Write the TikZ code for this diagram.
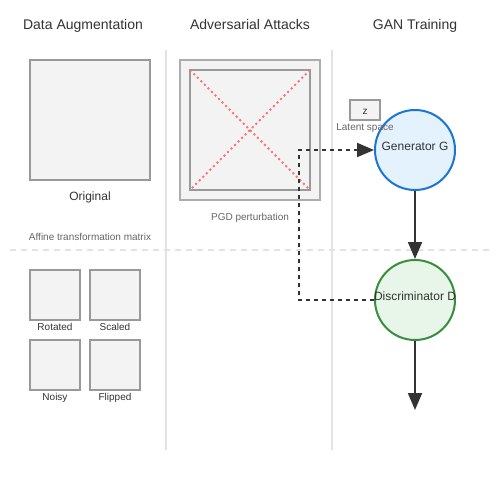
\documentclass[tikz,border=0pt]{standalone}
\usepackage{fontspec}
\setmainfont{Liberation Sans}
\usetikzlibrary{arrows.meta}
\definecolor{txt}{HTML}{333333}
\definecolor{sub}{HTML}{666666}
\definecolor{sep}{HTML}{E3E3E3}
\definecolor{boxfill}{HTML}{F3F3F3}
\definecolor{boxline}{HTML}{999999}
\definecolor{redline}{HTML}{FF7070}
\definecolor{gfill}{HTML}{E3F2FD}
\definecolor{gline}{HTML}{1976D2}
\definecolor{dfill}{HTML}{E8F5E9}
\definecolor{dline}{HTML}{388E3C}
\tikzset{
  title/.style={text=txt,font=\fontsize{14}{16}\selectfont,inner sep=0pt,anchor=base},
  lab/.style={text=txt,font=\fontsize{12}{14}\selectfont,inner sep=0pt,anchor=base},
  small/.style={text=txt,font=\fontsize{10}{12}\selectfont,inner sep=0pt,anchor=base},
  note/.style={text=sub,font=\fontsize{10}{12}\selectfont,inner sep=0pt,anchor=base},
  img/.style={draw=boxline,fill=boxfill,line width=1.3pt,inner sep=0pt,outer sep=0pt},
  sepline/.style={draw=sep,line width=1.5pt},
  circ/.style={circle,minimum size=80pt,inner sep=0pt,line width=2pt},
  arr/.style={draw=txt,line width=1.8pt,-{Triangle[length=17pt,width=14pt]}},
  dasharr/.style={draw=txt,line width=1.8pt,dash pattern=on 4pt off 4pt,-{Triangle[length=17pt,width=14pt]}},
}
\begin{document}
\begin{tikzpicture}[x=1pt,y=-1pt]
\useasboundingbox (0,0) rectangle (500,500);
\fill[white] (0,0) rectangle (500,500);
% separators
\draw[sepline] (166,50) -- (166,450);
\draw[sepline] (332,50) -- (332,450);
\draw[sepline,dash pattern=on 6pt off 5pt] (10,250) -- (490,250);
% titles
\node[title] (t1) at (83,30) {Data Augmentation};
\node[title] (t2) at (250,30) {Adversarial Attacks};
\node[title] (t3) at (415,30) {GAN Training};
% data augmentation
\node[img,minimum width=120pt,minimum height=120pt] (orig) at (90,120) {};
\node[lab] (origl) at (90,200) {Original};
\node[note] (affine) at (90,240) {Affine transformation matrix};
\node[img,minimum width=50pt,minimum height=50pt] (rot) at (55,295) {};
\node[img,minimum width=50pt,minimum height=50pt] (sca) at (115,295) {};
\node[img,minimum width=50pt,minimum height=50pt] (noi) at (55,365) {};
\node[img,minimum width=50pt,minimum height=50pt] (fli) at (115,365) {};
\node[small] (rotl) at (55,330) {Rotated};
\node[small] (scal) at (115,330) {Scaled};
\node[small] (noil) at (55,400) {Noisy};
\node[small] (flil) at (115,400) {Flipped};
% adversarial
\node[img,draw=boxline!80,line width=2pt,minimum width=140pt,minimum height=140pt] (outer) at (250,130) {};
\node[img,minimum width=120pt,minimum height=120pt] (inner) at (250,130) {};
\draw[redline,line width=2pt,dash pattern=on 2pt off 3pt] (inner.north west) -- (inner.south east);
\draw[redline,line width=2pt,dash pattern=on 2pt off 3pt] (inner.north east) -- (inner.south west);
\node[note] (pgd) at (250,220) {PGD perturbation};
% GAN
\node[img,minimum width=30pt,minimum height=20pt] (z) at (365,110) {};
\node[small] (zl) at (365,114) {z};
\node[circ,draw=gline,fill=gfill] (G) at (415,150) {};
\node[note] (lat) at (365,130) {Latent space};
\node[lab] (Gl) at (415,150) {Generator G};
\node[circ,draw=dline,fill=dfill] (D) at (415,300) {};
\node[lab] (Dl) at (415,300) {Discriminator D};
\coordinate (out) at (415,410);
\draw[arr] (G.south) -- (D.north);
\draw[arr] (D.south) -- (out);
\draw[dasharr] (D.west) -- ++(-75,0) |- (G.west);
\end{tikzpicture}
\end{document}
